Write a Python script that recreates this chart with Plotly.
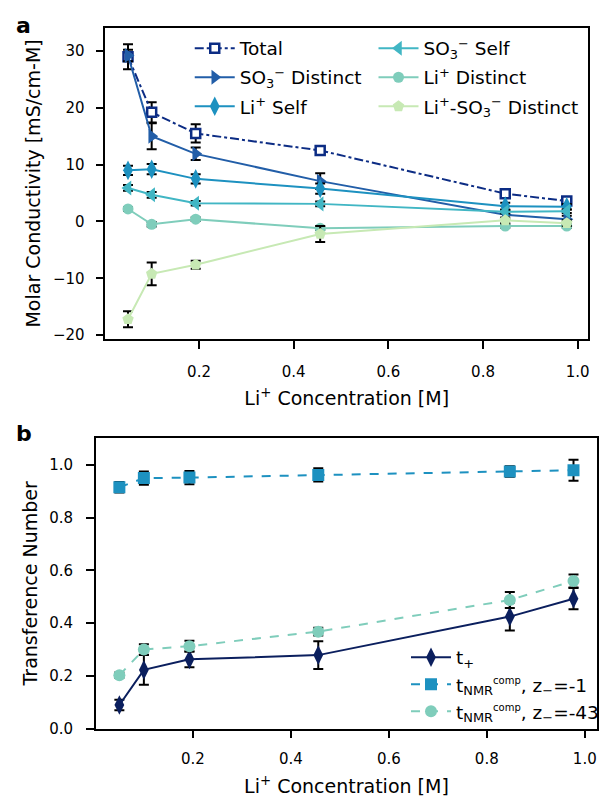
import plotly.graph_objects as go

# ---------------- data ----------------
conc = [0.05, 0.1, 0.193, 0.456, 0.847, 0.977]

total = [29.0, 19.2, 15.5, 12.5, 4.9, 3.6]
total_err = [2.2, 1.8, 1.6, 0.6, 0.6, 0.6]
so3_distinct = [29.2, 15.0, 11.9, 7.1, 1.2, 0.4]
so3_distinct_err = [1.0, 2.3, 1.1, 1.4, 0.8, 0.6]
li_self = [9.0, 9.2, 7.5, 5.8, 2.7, 2.6]
li_self_err = [0.8, 0.9, 0.8, 0.9, 0.6, 0.5]
so3_self = [5.9, 4.7, 3.2, 3.1, 1.7, 1.8]
so3_self_err = [0.5, 0.5, 0.4, 0.4, 0.3, 0.3]
li_distinct = [2.2, -0.5, 0.4, -1.2, -0.8, -0.8]
li_distinct_err = [0.3, 0.4, 0.3, 0.3, 0.3, 0.3]
liso3_distinct = [-17.2, -9.2, -7.6, -2.2, 0.2, -0.3]
liso3_distinct_err = [1.4, 2.0, 0.7, 1.4, 0.5, 0.5]

t_plus = [0.09, 0.223, 0.263, 0.279, 0.425, 0.493]
t_plus_err = [0.02, 0.056, 0.03, 0.053, 0.053, 0.04]
t_nmr_1 = [0.915, 0.950, 0.952, 0.962, 0.975, 0.980]
t_nmr_1_err = [0.02, 0.025, 0.025, 0.025, 0.02, 0.04]
t_nmr_43 = [0.203, 0.300, 0.313, 0.368, 0.488, 0.560]
t_nmr_43_err = [0.01, 0.02, 0.02, 0.015, 0.03, 0.025]

x_ticks = [0.2, 0.4, 0.6, 0.8, 1.0]
x_ticktext = ["0.2", "0.4", "0.6", "0.8", "1.0"]
ya_ticks = [-20, -10, 0, 10, 20, 30]
ya_ticktext = ["\u221220", "\u221210", "0", "10", "20", "30"]
yb_ticks = [0.0, 0.2, 0.4, 0.6, 0.8, 1.0]
yb_ticktext = ["0.0", "0.2", "0.4", "0.6", "0.8", "1.0"]

# ---------------- style ----------------
FONT = "DejaVu Sans"
C_NAVY = "#0c2c84"
C_BLUE = "#225ea8"
C_MID = "#1d91c0"
C_TEAL = "#41b6c4"
C_MINT = "#7fcdbb"
C_PALE = "#c7e9b4"
C_TPLUS = "#0b1f5e"


def err(vals):
    return dict(type="data", array=vals, visible=True, color="black",
                thickness=2, width=5)


fig = go.Figure()

# panel a
series_a = [
    ("Total", total, total_err, C_NAVY, "dashdot",
     dict(symbol="square", size=9, color="white", line=dict(color=C_NAVY, width=2.5)), "legend"),
    ("SO<sub>3</sub><sup>\u2212</sup> Distinct", so3_distinct, so3_distinct_err, C_BLUE, "solid",
     dict(symbol="triangle-right", size=13, color=C_BLUE), "legend"),
    ("Li<sup>+</sup> Self", li_self, li_self_err, C_MID, "solid",
     dict(symbol="diamond-tall", size=14, color=C_MID), "legend"),
    ("SO<sub>3</sub><sup>\u2212</sup> Self", so3_self, so3_self_err, C_TEAL, "solid",
     dict(symbol="triangle-left", size=13, color=C_TEAL), "legend2"),
    ("Li<sup>+</sup> Distinct", li_distinct, li_distinct_err, C_MINT, "solid",
     dict(symbol="circle", size=11, color=C_MINT), "legend2"),
    ("Li<sup>+</sup>-SO<sub>3</sub><sup>\u2212</sup> Distinct", liso3_distinct, liso3_distinct_err, C_PALE, "solid",
     dict(symbol="pentagon", size=12, color=C_PALE), "legend2"),
]
for i, (name, y, e, c, dash, mk, lg) in enumerate(series_a):
    fig.add_trace(go.Scatter(
        x=conc, y=y, error_y=err(e), name=name, mode="lines+markers",
        line=dict(color=c, width=2, dash=dash), marker=mk,
        legendgroup="a%d" % i,
        xaxis="x", yaxis="y", legend=lg))

# panel b
comp = "<sup><span style='font-size:10px'>comp</span></sup>"
series_b = [
    ("t<sub>+</sub>", t_plus, t_plus_err, C_TPLUS, "solid",
     dict(symbol="diamond-tall", size=14, color=C_TPLUS)),
    ("t<sub>NMR</sub>" + comp + ", z<sub>\u2212</sub>=-1", t_nmr_1, t_nmr_1_err, C_MID, "dash",
     dict(symbol="square", size=12, color=C_MID)),
    ("t<sub>NMR</sub>" + comp + ", z<sub>\u2212</sub>=-43", t_nmr_43, t_nmr_43_err, C_MINT, "dash",
     dict(symbol="circle", size=12, color=C_MINT)),
]
for name, y, e, c, dash, mk in series_b:
    fig.add_trace(go.Scatter(
        x=conc, y=y, error_y=err(e), name=name, mode="lines+markers",
        line=dict(color=c, width=2, dash=dash), marker=mk,
        xaxis="x2", yaxis="y2", legend="legend3"))

W, H = 604, 800
axis_common = dict(
    showline=True, linecolor="black", linewidth=1.5, mirror=True,
    ticks="outside", ticklen=8, tickwidth=1.5, tickcolor="black",
    showgrid=False, zeroline=False,
    tickfont=dict(family=FONT, size=15, color="black"),
)
title_font = dict(family=FONT, size=19, color="black")
legend_common = dict(
    font=dict(family=FONT, size=18.5, color="black"),
    bgcolor="rgba(0,0,0,0)", borderwidth=0,
    xanchor="left", yanchor="top", itemwidth=40,
)

fig.update_layout(
    width=W, height=H,
    margin=dict(l=0, r=0, t=0, b=0),
    paper_bgcolor="white", plot_bgcolor="white",
    font=dict(family=FONT, color="black"),
    xaxis=dict(domain=[106 / W, 592 / W], range=[0.002, 1.022],
               tickvals=x_ticks, ticktext=x_ticktext, anchor="y",
               ticklabelstandoff=10,
               title=dict(text="Li<sup>+</sup> Concentration [M]", font=title_font, standoff=12),
               **axis_common),
    yaxis=dict(domain=[1 - 343 / H, 1 - 28 / H], range=[-20.7, 34.1],
               tickvals=ya_ticks, ticktext=ya_ticktext, anchor="x",
               ticklabelstandoff=8,
               title=dict(text="Molar Conductivity [mS/cm-M]", font=title_font, standoff=7),
               **axis_common),
    xaxis2=dict(domain=[96.5 / W, 601 / W], range=[0.002, 1.025],
                tickvals=x_ticks, ticktext=x_ticktext, anchor="y2",
                ticklabelstandoff=8,
                title=dict(text="Li<sup>+</sup> Concentration [M]", font=title_font, standoff=12),
                **axis_common),
    yaxis2=dict(domain=[1 - 737 / H, 1 - 443 / H], range=[0.0, 1.102],
                tickvals=yb_ticks, ticktext=yb_ticktext, anchor="x2",
                ticklabelstandoff=10,
                title=dict(text="Transference Number", font=title_font, standoff=7),
                **axis_common),
    legend=dict(x=191 / W, y=1 - 30 / H, traceorder="grouped", tracegroupgap=2, **legend_common),
    legend2=dict(x=376 / W, y=1 - 30 / H, traceorder="grouped", tracegroupgap=2, **legend_common),
    legend3=dict(x=409 / W, y=1 - 646 / H, **legend_common),
    showlegend=True,
    annotations=[
        dict(text="<b>a</b>", x=14 / W, y=1 - 11 / H, xref="paper", yref="paper",
             xanchor="left", yanchor="top", showarrow=False,
             font=dict(family=FONT, size=22, color="black")),
        dict(text="<b>b</b>", x=14 / W, y=1 - 424 / H, xref="paper", yref="paper",
             xanchor="left", yanchor="top", showarrow=False,
             font=dict(family=FONT, size=22, color="black")),
    ],
)

fig.write_html("out.html", config={"displayModeBar": False},
               post_script="document.body.style.margin='0';")
